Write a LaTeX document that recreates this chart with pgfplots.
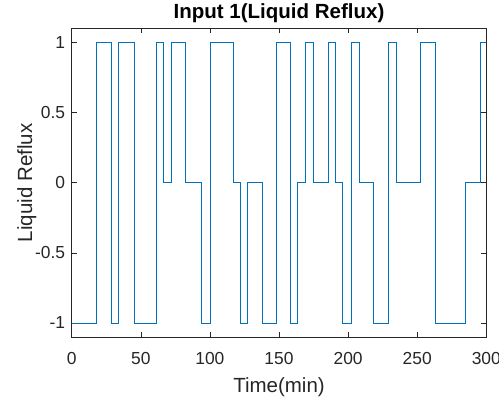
\documentclass[border=0pt]{standalone}
\usepackage{fontspec}
\setmainfont{Liberation Sans}
\usepackage{pgfplots}
\pgfplotsset{compat=1.18}
\usetikzlibrary{calc}
\definecolor{mblue}{rgb}{0,0.447,0.741}
\definecolor{axgray}{rgb}{0.15,0.15,0.15}

\begin{document}
\begin{tikzpicture}
\begin{axis}[
  name=ax,
  scale only axis, width=414.6pt, height=308.5pt,
  xmin=0, xmax=300, ymin=-1.1, ymax=1.1,
  xtick={0,50,...,300}, ytick={-1,-0.5,0,0.5,1},
  tick align=inside, major tick length=5pt,
  axis line style={axgray, line width=0.6pt},
  every tick/.style={axgray, line width=0.6pt},
  tick label style={font=\fontsize{17.4}{20}\selectfont, text=axgray},
  /pgf/number format/assume math mode=true,
  yticklabel style={/pgf/number format/fixed, xshift=-3pt},
  xticklabel style={yshift=-12pt},
  title={\textbf{Input 1(Liquid Reflux)}},
  title style={font=\fontsize{20.5}{23}\selectfont, at={(axis description cs:0.5,1.03)}, anchor=center},
  xlabel={Time(min)},
  xlabel style={font=\fontsize{20.5}{23}\selectfont, text=axgray, at={(axis description cs:0.5,-0.162)}, anchor=center},
  ylabel={Liquid Reflux},
  ylabel style={font=\fontsize{20.5}{23}\selectfont, text=axgray, at={(axis description cs:-0.1085,0.5)}, anchor=center},
]
\addplot[const plot, mblue, line width=0.7pt] coordinates {
 (0,-1) (18,1) (29,-1) (34,1) (45,-1) (61,1) (66,0) (72,1) (82,0) (94,-1)
 (100,1) (117,0) (122,-1) (127,0) (138,-1) (148,1) (158,-1) (163,0) (169,1)
 (175,0) (186,1) (191,0) (196,-1) (202,1) (208,0) (218,-1) (229,1) (235,0)
 (252,1) (263,-1) (285,0) (296,1) (300,1)};
\end{axis}
\pgfresetboundingbox
\path[use as bounding box] ($(ax.south west)+(-71.7pt,-66pt)$) rectangle ($(ax.north east)+(12.7pt,28.5pt)$);
\end{tikzpicture}
\end{document}
